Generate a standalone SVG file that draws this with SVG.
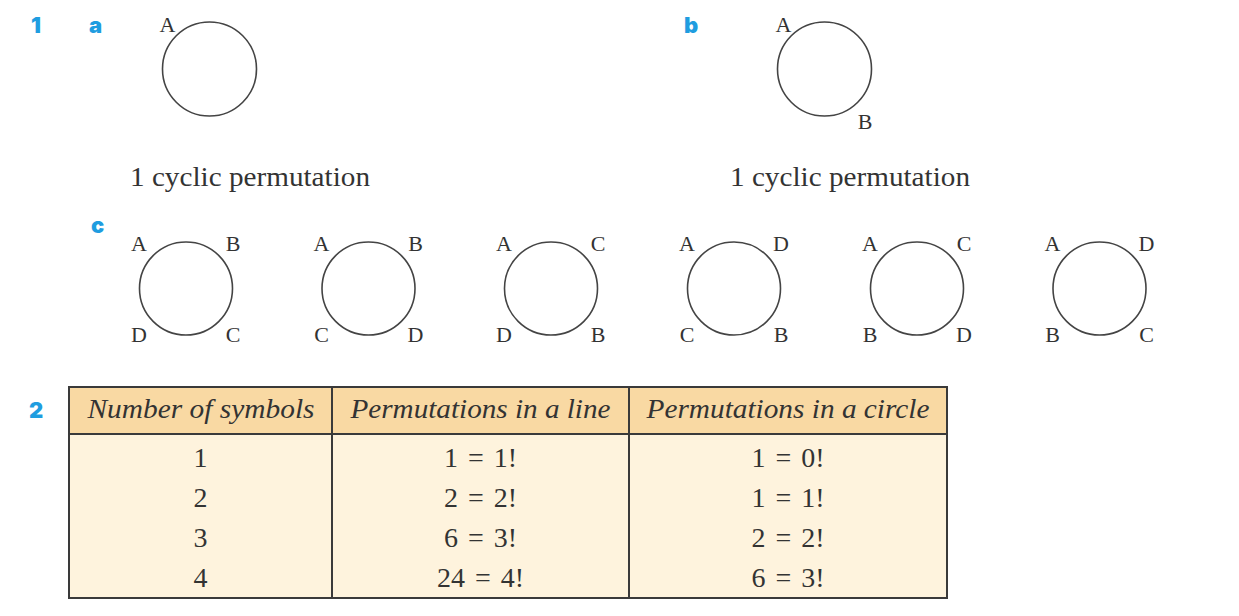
<svg xmlns="http://www.w3.org/2000/svg" width="1239" height="616" viewBox="0 0 1239 616">
<style>
.lbl{font-family:Inter,"Open Sans","Noto Sans",sans-serif;font-weight:900;font-size:22px;fill:#1f9de0}
.let{font-family:"Liberation Serif","Times New Roman",serif;font-size:22px;fill:#333;text-anchor:middle}
.cap{font-family:"Liberation Serif","Times New Roman",serif;font-size:27px;fill:#333}
.circ{fill:none;stroke:#444;stroke-width:1.6}
.hd{font-family:"Liberation Serif","Times New Roman",serif;font-style:italic;font-size:27px;fill:#333;text-anchor:middle}
.num{font-family:"Liberation Serif","Times New Roman",serif;font-size:28px;fill:#333;text-anchor:middle;word-spacing:3px}
.grid{stroke:#3a3a3a;stroke-width:2;fill:none}
</style>
<rect width="1239" height="616" fill="#ffffff"/>

<g id="labels">
<text class="lbl" x="31" y="33">1</text>
<text class="lbl" x="89" y="33">a</text>
<text class="lbl" x="684" y="33">b</text>
<text class="lbl" x="91" y="233">c</text>
<text class="lbl" x="29" y="418">2</text>
</g>

<g id="part-a">
<circle class="circ" cx="209.5" cy="69" r="47"/>
<text class="let" x="167.5" y="32">A</text>
<text class="cap" x="130" y="186" textLength="240" lengthAdjust="spacingAndGlyphs">1 cyclic permutation</text>
</g>

<g id="part-b">
<circle class="circ" cx="824.5" cy="69" r="47"/>
<text class="let" x="783.5" y="32">A</text>
<text class="let" x="865" y="129">B</text>
<text class="cap" x="730" y="186" textLength="240" lengthAdjust="spacingAndGlyphs">1 cyclic permutation</text>
</g>

<g id="c1">
<circle class="circ" cx="186" cy="288.5" r="46.5"/>
<text class="let" x="139" y="251">A</text><text class="let" x="233" y="251">B</text>
<text class="let" x="139" y="342">D</text><text class="let" x="233" y="342">C</text>
</g>
<g id="c2">
<circle class="circ" cx="368.5" cy="288.5" r="46.5"/>
<text class="let" x="321.5" y="251">A</text><text class="let" x="415.5" y="251">B</text>
<text class="let" x="321.5" y="342">C</text><text class="let" x="415.5" y="342">D</text>
</g>
<g id="c3">
<circle class="circ" cx="551" cy="288.5" r="46.5"/>
<text class="let" x="504" y="251">A</text><text class="let" x="598" y="251">C</text>
<text class="let" x="504" y="342">D</text><text class="let" x="598" y="342">B</text>
</g>
<g id="c4">
<circle class="circ" cx="734" cy="288.5" r="46.5"/>
<text class="let" x="687" y="251">A</text><text class="let" x="781" y="251">D</text>
<text class="let" x="687" y="342">C</text><text class="let" x="781" y="342">B</text>
</g>
<g id="c5">
<circle class="circ" cx="917" cy="288.5" r="46.5"/>
<text class="let" x="870" y="251">A</text><text class="let" x="964" y="251">C</text>
<text class="let" x="870" y="342">B</text><text class="let" x="964" y="342">D</text>
</g>
<g id="c6">
<circle class="circ" cx="1099.5" cy="288.5" r="46.5"/>
<text class="let" x="1052.5" y="251">A</text><text class="let" x="1146.5" y="251">D</text>
<text class="let" x="1052.5" y="342">B</text><text class="let" x="1146.5" y="342">C</text>
</g>

<g id="table">
<rect x="69" y="387" width="878" height="211" fill="#fef3dd"/>
<rect x="69" y="387" width="878" height="47" fill="#f9d9a3"/>
<rect class="grid" x="69" y="387" width="878" height="211"/>
<line class="grid" x1="69" y1="434" x2="947" y2="434"/>
<line class="grid" x1="332" y1="387" x2="332" y2="598"/>
<line class="grid" x1="629" y1="387" x2="629" y2="598"/>
<text class="hd" x="201" y="418" textLength="227" lengthAdjust="spacingAndGlyphs">Number of symbols</text>
<text class="hd" x="480.5" y="418" textLength="260" lengthAdjust="spacingAndGlyphs">Permutations in a line</text>
<text class="hd" x="788" y="418" textLength="283" lengthAdjust="spacingAndGlyphs">Permutations in a circle</text>
<text class="num" x="200.5" y="467">1</text>
<text class="num" x="200.5" y="507">2</text>
<text class="num" x="200.5" y="547">3</text>
<text class="num" x="200.5" y="587">4</text>
<text class="num" x="480.5" y="467">1 = 1!</text>
<text class="num" x="480.5" y="507">2 = 2!</text>
<text class="num" x="480.5" y="547">6 = 3!</text>
<text class="num" x="480.5" y="587">24 = 4!</text>
<text class="num" x="788" y="467">1 = 0!</text>
<text class="num" x="788" y="507">1 = 1!</text>
<text class="num" x="788" y="547">2 = 2!</text>
<text class="num" x="788" y="587">6 = 3!</text>
</g>
</svg>
